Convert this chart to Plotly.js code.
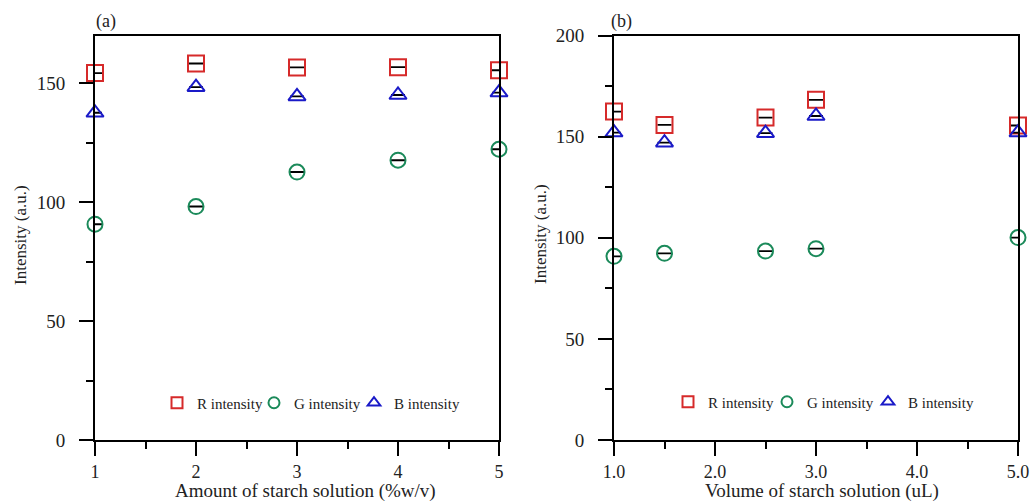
<!DOCTYPE html>
<html>
<head>
<meta charset="utf-8">
<script src="https://cdn.plot.ly/plotly-3.0.1.min.js"></script>
<style>
  html, body { margin: 0; padding: 0; background: #fff; }
  #chart { width: 1032px; height: 501px; }
</style>
</head>
<body>
<div id="chart"></div>
<script>
// Panel (a): colour intensities vs. amount of starch solution
const amountA = [1, 2, 3, 4, 5];
const redA    = [154.2, 158.2, 156.6, 156.7, 155.4];
const greenA  = [90.7, 98.1, 112.6, 117.6, 122.2];
const blueA   = [137.5, 148.3, 144.4, 145.0, 146.0];
const errA    = [0.15, 0.15, 0.15, 0.15, 0.15];

// Panel (b): colour intensities vs. volume of starch solution
const volumeB = [1.0, 1.5, 2.5, 3.0, 5.0];
const redB    = [162.4, 155.8, 159.4, 168.2, 155.5];
const greenB  = [90.8, 92.3, 93.4, 94.6, 100.1];
const blueB   = [152.0, 147.0, 151.7, 160.2, 152.0];
const errB    = [0.15, 0.15, 0.15, 0.15, 0.15];

const seriesNames = ['R intensity', 'G intensity', 'B intensity'];
const colors  = ['#d62a2a', '#1b8a5a', '#1a1ac8'];
const symbols = ['square-open', 'circle-open', 'triangle-up-open'];
const sizes   = [16, 15, 15];

const FONT = 'Liberation Serif, Times New Roman, serif';

function dataTrace(x, y, err, i, xa, ya) {
  return {
    type: 'scatter', mode: 'markers', x: x, y: y,
    xaxis: xa, yaxis: ya, showlegend: false, cliponaxis: false,
    marker: { symbol: symbols[i], size: sizes[i], color: colors[i],
              line: { color: colors[i], width: 2 } },
    error_y: { type: 'data', array: err, visible: true,
               color: '#000', thickness: 1.2, width: 7 }
  };
}

// one single-entry legend per series and panel, so each key sits where wanted
function legendTrace(i, legendId) {
  return {
    type: 'scatter', mode: 'markers', x: [null], y: [null],
    name: seriesNames[i], legend: legendId, showlegend: true,
    marker: { symbol: symbols[i], size: 11, color: colors[i],
              line: { color: colors[i], width: 2 } }
  };
}

const traces = [
  dataTrace(amountA, redA,   errA, 0, 'x',  'y'),
  dataTrace(amountA, greenA, errA, 1, 'x',  'y'),
  dataTrace(amountA, blueA,  errA, 2, 'x',  'y'),
  dataTrace(volumeB, redB,   errB, 0, 'x2', 'y2'),
  dataTrace(volumeB, greenB, errB, 1, 'x2', 'y2'),
  dataTrace(volumeB, blueB,  errB, 2, 'x2', 'y2'),
  legendTrace(0, 'legend'),  legendTrace(1, 'legend2'), legendTrace(2, 'legend3'),
  legendTrace(0, 'legend4'), legendTrace(1, 'legend5'), legendTrace(2, 'legend6')
];

const H = 501, W = 1032;
const yDom = [1 - 440 / H, 1 - 35.5 / H];

function xAxis(domain, range, fmt, anchor) {
  return {
    domain: domain, range: range, anchor: anchor,
    dtick: 1, tick0: 1, tickformat: fmt,
    ticks: 'outside', ticklen: 14, tickwidth: 2, tickcolor: '#000',
    minor: { dtick: 0.5, ticks: 'outside', ticklen: 7, tickwidth: 2, tickcolor: '#000', showgrid: false },
    showline: true, linewidth: 2, linecolor: '#000', mirror: true,
    showgrid: false, zeroline: false, ticklabelstandoff: 0,
    tickfont: { family: FONT, size: 18, color: '#222' }
  };
}

function yAxis(range, anchor) {
  return {
    domain: yDom, range: range, anchor: anchor,
    dtick: 50, tick0: 0,
    ticks: 'outside', ticklen: 14, tickwidth: 2, tickcolor: '#000',
    minor: { dtick: 25, ticks: 'outside', ticklen: 7, tickwidth: 2, tickcolor: '#000', showgrid: false },
    showline: true, linewidth: 2, linecolor: '#000', mirror: true,
    showgrid: false, zeroline: false, ticklabelstandoff: 10,
    tickfont: { family: FONT, size: 19, color: '#222' }
  };
}

// symbol centre at (cx, cy) in pixels
function legendBox(cx, cy) {
  return {
    orientation: 'h', x: (cx - 19) / W, y: 1 - cy / H, xanchor: 'left', yanchor: 'middle',
    bgcolor: 'rgba(0,0,0,0)', borderwidth: 0,
    font: { family: FONT, size: 15, color: '#222' },
    itemclick: false, itemdoubleclick: false
  };
}

function note(text, xPx, yPx, angle, size) {
  return {
    text: text, xref: 'paper', yref: 'paper', x: xPx / W, y: 1 - yPx / H,
    xanchor: 'center', yanchor: 'middle', showarrow: false, textangle: angle || 0,
    font: { family: FONT, size: size || 19, color: '#222' }
  };
}

const layout = {
  width: W, height: H,
  margin: { l: 0, r: 0, t: 0, b: 0 },
  paper_bgcolor: '#fff', plot_bgcolor: '#fff',
  showlegend: true,
  xaxis:  xAxis([95 / W, 499 / W], [1, 5], 'd', 'y'),
  yaxis:  yAxis([0, 170], 'x'),
  xaxis2: xAxis([614 / W, 1018 / W], [1, 5], '.1f', 'y2'),
  yaxis2: yAxis([0, 200], 'x2'),
  legend:  legendBox(176, 403),
  legend2: legendBox(273, 403),
  legend3: legendBox(373, 403),
  legend4: legendBox(687, 402),
  legend5: legendBox(786, 402),
  legend6: legendBox(887, 402),
  annotations: [
    note('(a)', 106, 21, 0, 18),
    note('(b)', 621, 21, 0, 18),
    note('Intensity (a.u.)', 21, 235, -90, 17),
    note('Intensity (a.u.)', 540, 234, -90, 17),
    note('Amount of starch solution (%w/v)', 305, 491, 0, 19),
    note('Volume of starch solution (uL)', 822, 491, 0, 19)
  ]
};

Plotly.newPlot('chart', traces, layout, { staticPlot: true, displayModeBar: false });
</script>
</body>
</html>
